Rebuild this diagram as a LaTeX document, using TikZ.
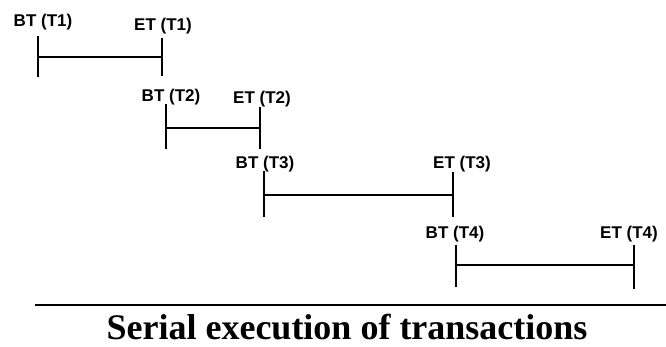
\documentclass[tikz,border=0pt]{standalone}
\usepackage{fontspec}
\setmainfont{Liberation Serif}
\setsansfont{Liberation Sans}
\usepackage{tikz}

\tikzset{
  tlabel/.style={font=\sffamily\bfseries\fontsize{17}{17}\selectfont,inner sep=0pt},
  tbar/.style={draw,line width=2pt},
}

\begin{document}
\begin{tikzpicture}[x=1pt,y=-1pt]
  \useasboundingbox (0,0) rectangle (666,346);

  %T1
  \coordinate (b1t) at (38,36);   \coordinate (b1b) at (38,77);
  \coordinate (e1t) at (162,38);  \coordinate (e1b) at (162,76);
  \coordinate (b1) at (38,57);    \coordinate (e1) at (162,57);
  \draw[tbar] (b1t) -- (b1b);
  \draw[tbar] (e1t) -- (e1b);
  \draw[tbar] (b1) -- (e1);
  \node[tlabel] (bt1) at (43,22) {BT (T1)};
  \node[tlabel] (et1) at (163,26) {ET (T1)};

  %T2
  \coordinate (b2t) at (166,104); \coordinate (b2b) at (166,149);
  \coordinate (e2t) at (260,107); \coordinate (e2b) at (260,149);
  \coordinate (b2) at (166,128);  \coordinate (e2) at (260,128);
  \draw[tbar] (b2t) -- (b2b);
  \draw[tbar] (e2t) -- (e2b);
  \draw[tbar] (b2) -- (e2);
  \node[tlabel] (bt2) at (171,97) {BT (T2)};
  \node[tlabel] (et2) at (262,99) {ET (T2)};

  %T3
  \coordinate (b3t) at (264,171); \coordinate (b3b) at (264,217);
  \coordinate (e3t) at (453,172); \coordinate (e3b) at (453,217);
  \coordinate (b3) at (264,195);  \coordinate (e3) at (453,195);
  \draw[tbar] (b3t) -- (b3b);
  \draw[tbar] (e3t) -- (e3b);
  \draw[tbar] (b3) -- (e3);
  \node[tlabel] (bt3) at (265,164) {BT (T3)};
  \node[tlabel] (et3) at (462,164) {ET (T3)};

  %T4
  \coordinate (b4t) at (456,245); \coordinate (b4b) at (456,287);
  \coordinate (e4t) at (634,245); \coordinate (e4b) at (634,289);
  \coordinate (b4) at (456,265);  \coordinate (e4) at (634,265);
  \draw[tbar] (b4t) -- (b4b);
  \draw[tbar] (e4t) -- (e4b);
  \draw[tbar] (b4) -- (e4);
  \node[tlabel] (bt4) at (455,234) {BT (T4)};
  \node[tlabel] (et4) at (629,234) {ET (T4)};

  %caption
  \coordinate (rl) at (35,305);
  \coordinate (rr) at (666,305);
  \draw[line width=2.5pt] (rl) -- (rr);
  \node[anchor=base,inner sep=0pt,font=\bfseries\fontsize{36}{36}\selectfont] (cap) at (347,339) {Serial execution of transactions};
\end{tikzpicture}
\end{document}
